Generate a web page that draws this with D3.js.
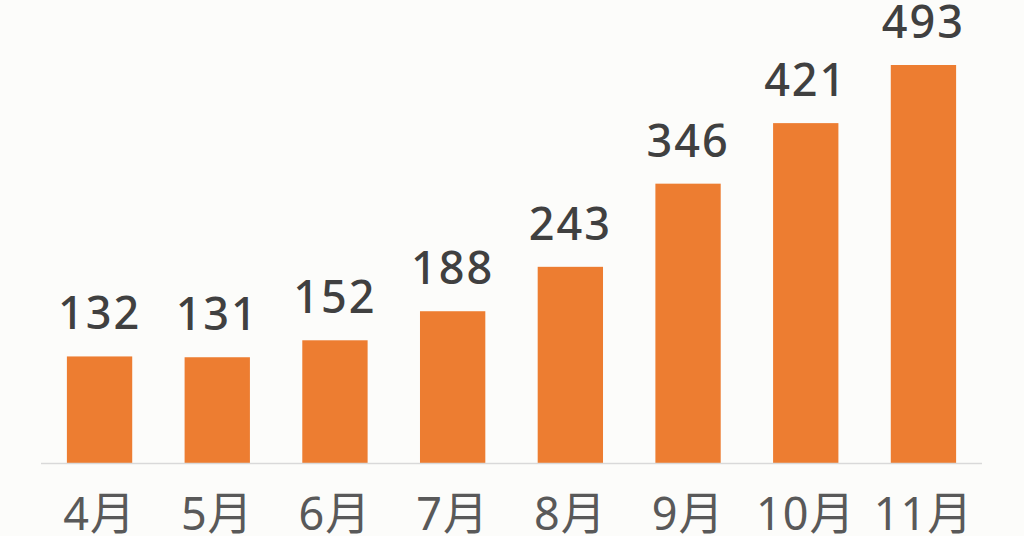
<!DOCTYPE html>
<html>
<head>
<meta charset="utf-8">
<script src="https://cdn.jsdelivr.net/npm/d3@7.9.0/dist/d3.min.js"></script>
<style>
  html, body { margin: 0; padding: 0; background: #fcfcfa; }
  svg { display: block; }
</style>
</head>
<body>
<div id="chart"></div>
<script>
const months = ['4月', '5月', '6月', '7月', '8月', '9月', '10月', '11月'];
const counts = [132, 131, 152, 188, 243, 346, 421, 493];

const width = 1024;
const height = 536;
const font = '"Noto Sans", "Noto Sans CJK JP", sans-serif';

const svg = d3.select('#chart').append('svg')
  .attr('width', width)
  .attr('height', height);

const x = d3.scaleBand().domain(months).range([41, 982]).paddingInner(0.445).paddingOuter(0.22);
const y = d3.scaleLinear().domain([0, 493]).range([463, 65]);

// bars
svg.append('g').selectAll('rect').data(months).join('rect')
  .attr('x', d => x(d))
  .attr('y', (d, i) => y(counts[i]))
  .attr('width', x.bandwidth())
  .attr('height', (d, i) => y(0) - y(counts[i]))
  .attr('fill', '#ed7d31');

// baseline
svg.append('line')
  .attr('x1', 41).attr('x2', 982)
  .attr('y1', y(0) + 0.5).attr('y2', y(0) + 0.5)
  .attr('stroke', '#d9d9d9')
  .attr('stroke-width', 1.5);

// value labels
svg.append('g').selectAll('text').data(months).join('text')
  .attr('x', d => x(d) + x.bandwidth() / 2)
  .attr('y', (d, i) => y(counts[i]) - 27)
  .attr('text-anchor', 'middle')
  .attr('font-family', font)
  .attr('font-size', 45)
  .attr('font-weight', 500)
  .attr('letter-spacing', 2)
  .attr('fill', '#404040')
  .text((d, i) => counts[i]);

// month labels
svg.append('g').selectAll('text').data(months).join('text')
  .attr('x', d => x(d) + x.bandwidth() / 2)
  .attr('y', 530)
  .attr('text-anchor', 'middle')
  .attr('font-family', font)
  .attr('font-size', 45)
  .attr('letter-spacing', 1)
  .attr('fill', '#595959')
  .text(d => d);
</script>
</body>
</html>
